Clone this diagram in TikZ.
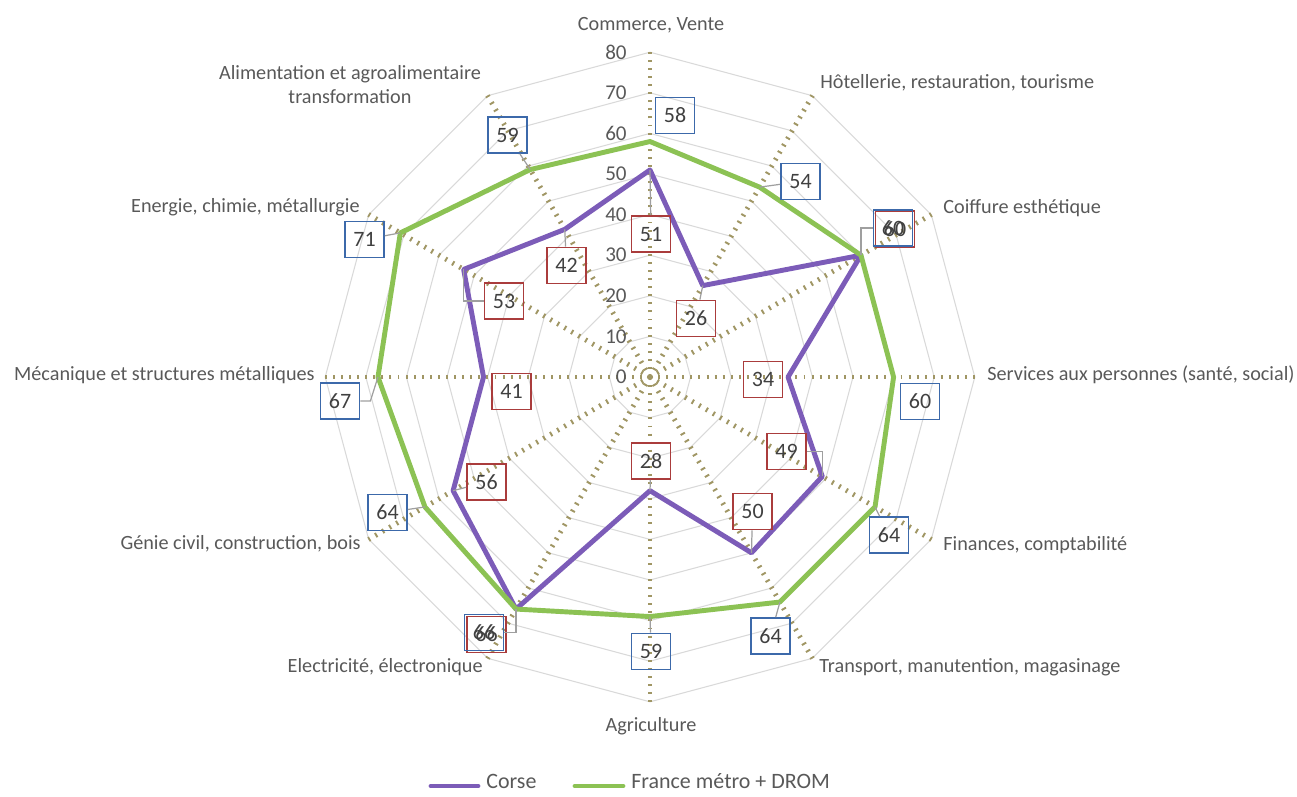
\documentclass[tikz,border=0pt]{standalone}
\usepackage{fontspec}
\setmainfont{Carlito}
\definecolor{cCorse}{RGB}{124,92,184}
\definecolor{cFrance}{RGB}{140,194,84}
\definecolor{cAxe}{RGB}{160,150,100}
\definecolor{cGrille}{RGB}{217,217,217}
\definecolor{cTexte}{RGB}{89,89,89}
\definecolor{cNombre}{RGB}{64,64,64}
\definecolor{cBoiteC}{RGB}{170,60,60}
\definecolor{cBoiteF}{RGB}{60,105,170}
\tikzset{
	grille/.style={draw=cGrille, line width=0.6pt},
	axe/.style={draw=cAxe, line width=2.8pt, dash pattern=on 1.1pt off 3.5pt},
	serieC/.style={draw=cCorse, line width=2.8pt, line join=round},
	serieF/.style={draw=cFrance, line width=2.8pt, line join=round},
	cat/.style={text=cTexte, font=\fontsize{11.5}{13.6}\selectfont, inner sep=0pt, align=center},
	graduation/.style={text=cTexte, font=\fontsize{12}{14}\selectfont, inner sep=0pt, anchor=east},
	etiq/.style={draw, line width=1pt, text=cNombre, font=\fontsize{12.5}{14}\selectfont, minimum width=0.78cm, minimum height=0.72cm, inner sep=0pt},
	etiqC/.style={etiq, draw=cBoiteC},
	etiqF/.style={etiq, draw=cBoiteF},
	leader/.style={draw=gray!75, line width=0.7pt},
	legende/.style={text=cTexte, font=\fontsize{12.5}{14}\selectfont, inner sep=0pt, anchor=base west}
}
\begin{document}
\begin{tikzpicture}[x=0.02cm,y=0.02cm]
	\useasboundingbox (-650,-419) rectangle (647,377);
	\coordinate (o) at (0,0);
	% grille et axes
	\foreach \r in {1,...,8}
		\draw[grille] (90:{\r*40.6}) \foreach \k in {1,...,11}{ -- ({90-30*\k}:{\r*40.6})} -- cycle;
	\foreach \k in {0,...,11}
		\draw[axe] (o) -- ({90-30*\k}:325);
	\foreach \v in {0,10,...,80}
		\node[graduation] (t\v) at (-23,{\v*4.06}) {\v};
	% points des deux series
	\foreach \k/\vc/\vf in {0/51/58,1/26/54,2/60/60,3/34/60,4/49/64,5/50/64,6/28/59,7/66/66,8/56/64,9/41/67,10/53/71,11/42/59}{
		\coordinate (c\k) at ({90-30*\k}:{\vc*4.06});
		\coordinate (f\k) at ({90-30*\k}:{\vf*4.06});
	}
	\draw[serieC] (c0) -- (c1) -- (c2) -- (c3) -- (c4) -- (c5) -- (c6) -- (c7) -- (c8) -- (c9) -- (c10) -- (c11) -- cycle;
	\draw[serieF] (f0) -- (f1) -- (f2) -- (f3) -- (f4) -- (f5) -- (f6) -- (f7) -- (f8) -- (f9) -- (f10) -- (f11) -- cycle;
	% categories
	\node[cat] (k0) at (1,352) {Commerce, Vente};
	\node[cat, anchor=west] (k1) at (170,294) {Hôtellerie, restauration, tourisme};
	\node[cat, anchor=west] (k2) at (293,169) {Coiffure esthétique};
	\node[cat, anchor=west] (k3) at (337,2) {Services aux personnes (santé, social)};
	\node[cat, anchor=west] (k4) at (293,-168) {Finances, comptabilité};
	\node[cat, anchor=west] (k5) at (169,-290) {Transport, manutention, magasinage};
	\node[cat] (k6) at (1,-349) {Agriculture};
	\node[cat, anchor=east] (k7) at (-167,-290) {Electricité, électronique};
	\node[cat, anchor=east] (k8) at (-289,-167) {Génie civil, construction, bois};
	\node[cat, anchor=east] (k9) at (-335,2) {Mécanique et structures métalliques};
	\node[cat, anchor=east] (k10) at (-290,170) {Energie, chimie, métallurgie};
	\node[cat] (k11) at (-300,292) {Alimentation et agroalimentaire\\transformation};
	% etiquettes Corse
	\node[etiqC] (lc0) at (1,143) {51};
	\node[etiqC] (lc1) at (46,58.5) {26};
	\node[etiqC] (lc2) at (245,148) {60};
	\node[etiqC] (lc3) at (113,-2.5) {34};
	\node[etiqC] (lc4) at (136.5,-74.5) {49};
	\node[etiqC] (lc5) at (102.5,-134.5) {50};
	\node[etiqC] (lc6) at (1,-84) {28};
	\node[etiqC] (lc7) at (-163.5,-257.5) {66};
	\node[etiqC] (lc8) at (-163.5,-105) {56};
	\node[etiqC] (lc9) at (-138.5,-14.5) {41};
	\node[etiqC] (lc10) at (-146,76) {53};
	\node[etiqC] (lc11) at (-83.5,111.5) {42};
	% etiquettes France
	\node[etiqF] (lf0) at (25,261.5) {58};
	\node[etiqF] (lf1) at (150.5,195.5) {54};
	\node[etiqF] (lf2) at (243,149) {60};
	\node[etiqF] (lf3) at (270,-24.5) {60};
	\node[etiqF] (lf4) at (239,-158) {64};
	\node[etiqF] (lf5) at (120.5,-259) {64};
	\node[etiqF] (lf6) at (1,-274.5) {59};
	\node[etiqF] (lf7) at (-166,-255.5) {66};
	\node[etiqF] (lf8) at (-262.5,-135.5) {64};
	\node[etiqF] (lf9) at (-310,-24) {67};
	\node[etiqF] (lf10) at (-285.5,137.5) {71};
	\node[etiqF] (lf11) at (-142.5,242) {59};
	% lignes de rappel
	\draw[leader] (lc0) -- (c0);
	\draw[leader] (lc1) -- (c1);
	\draw[leader] (c2) |- (lf2.west);
	\draw[leader] (c4) |- (lc4.east);
	\draw[leader] (lc5) -- (c5);
	\draw[leader] (lc6) -- (c6);
	\draw[leader] (c7) |- (lf7.east);
	\draw[leader] (lc8) -- (c8);
	\draw[leader] (c10) |- (lc10.west);
	\draw[leader] (lc11) -- (c11);
	\draw[leader] (lf1) -- (f1);
	\draw[leader] (lf4) -- (f4);
	\draw[leader] (lf5) -- (f5);
	\draw[leader] (lf6) -- (f6);
	\draw[leader] (lf8) -- (f8);
	\draw[leader] (lf9.east) -- ++(10,0) -- (f9);
	\draw[leader] (lf10) -- (f10);
	\draw[leader] (lf11) -- (f11);
	% legende
	\draw[serieC, line cap=round] (-219,-409) -- (-172,-409);
	\node[legende] (g1) at (-164,-411) {Corse};
	\draw[serieF, line cap=round] (-75,-409) -- (-27,-409);
	\node[legende] (g2) at (-19,-411) {France métro + DROM};
\end{tikzpicture}
\end{document}
